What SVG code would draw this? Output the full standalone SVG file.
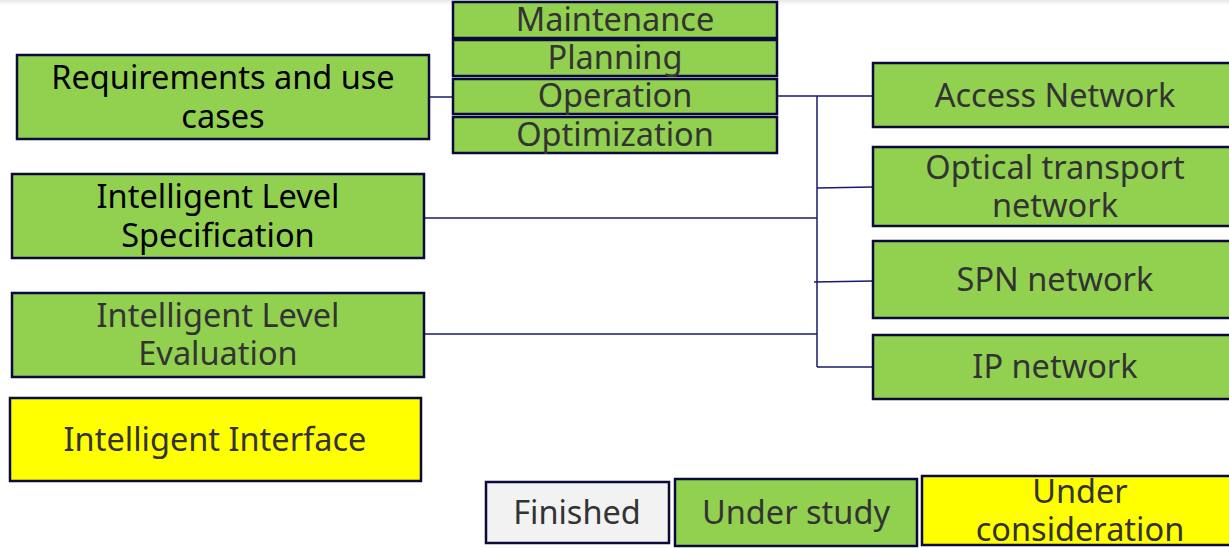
<svg xmlns="http://www.w3.org/2000/svg" width="1229" height="548" viewBox="0 0 1229 548">
<defs>
<linearGradient id="topshade" x1="0" y1="0" x2="0" y2="1">
<stop offset="0" stop-color="#e6e6e6"/>
<stop offset="1" stop-color="#ffffff"/>
</linearGradient>
<style>
.g{fill:#92d050;stroke:#0b0b3b;stroke-width:2.5}
.y{fill:#ffff00;stroke:#0b0b3b;stroke-width:2.5}
.w{fill:#f2f2f2;stroke:#0b0b3b;stroke-width:2.5}
.t{font-family:"Noto Sans","Open Sans",sans-serif;font-size:32.5px;text-anchor:middle;fill:#333333}
.k{fill:#000000}
.c{fill:none;stroke:#1a1a6e;stroke-width:1.5}
</style>
</defs>
<rect x="0" y="0" width="1229" height="548" fill="#ffffff"/>
<rect x="0" y="0" width="1229" height="5" fill="url(#topshade)"/>
<g id="connectors">
<path class="c" d="M429,97 H453"/>
<path class="c" d="M777,96 H817 M817,96 V367 M817,96 H873"/>
<path class="c" d="M817,188 L873,187"/>
<path class="c" d="M814,282 L873,281"/>
<path class="c" d="M817,367 H873"/>
<path class="c" d="M424,218 H817"/>
<path class="c" d="M421,334 H817"/>
</g>
<g id="req"><rect class="g" x="17" y="55" width="412" height="84"/>
<text class="t k" x="223" y="89">Requirements and use</text>
<text class="t k" x="223" y="128">cases</text></g>
<g id="maintenance"><rect class="g" x="453" y="2" width="324" height="36"/>
<text class="t" x="615" y="31">Maintenance</text></g>
<g id="planning"><rect class="g" x="453" y="40" width="324" height="36"/>
<text class="t" x="615" y="69">Planning</text></g>
<g id="operation"><rect class="g" x="453" y="79" width="324" height="35"/>
<text class="t" x="615" y="107">Operation</text></g>
<g id="optimization"><rect class="g" x="453" y="117" width="324" height="36"/>
<text class="t" x="615" y="146">Optimization</text></g>
<g id="access"><rect class="g" x="873" y="63" width="360" height="64"/>
<text class="t" x="1055" y="107">Access Network</text></g>
<g id="otn"><rect class="g" x="873" y="147" width="360" height="79"/>
<text class="t" x="1055" y="179">Optical transport</text>
<text class="t" x="1055" y="217">network</text></g>
<g id="spn"><rect class="g" x="873" y="241" width="360" height="77"/>
<text class="t" x="1055" y="291">SPN network</text></g>
<g id="ip"><rect class="g" x="873" y="335" width="360" height="64"/>
<text class="t" x="1055" y="378">IP network</text></g>
<g id="spec"><rect class="g" x="12" y="174" width="412" height="84"/>
<text class="t k" x="218" y="208">Intelligent Level</text>
<text class="t k" x="218" y="247">Specification</text></g>
<g id="eval"><rect class="g" x="12" y="293" width="412" height="84"/>
<text class="t" x="218" y="327">Intelligent Level</text>
<text class="t" x="218" y="365">Evaluation</text></g>
<g id="interface"><rect class="y" x="10" y="398" width="411" height="83"/>
<text class="t" x="215" y="451">Intelligent Interface</text></g>
<g id="finished"><rect class="w" x="486" y="482" width="183" height="61"/>
<text class="t" x="577" y="524">Finished</text></g>
<g id="understudy"><rect class="g" x="675" y="479" width="242" height="67"/>
<text class="t" x="796" y="524">Under study</text></g>
<g id="underconsideration"><rect class="y" x="922" y="476" width="311" height="69"/>
<text class="t" x="1080" y="503">Under</text>
<text class="t" x="1080" y="541">consideration</text></g>
</svg>
